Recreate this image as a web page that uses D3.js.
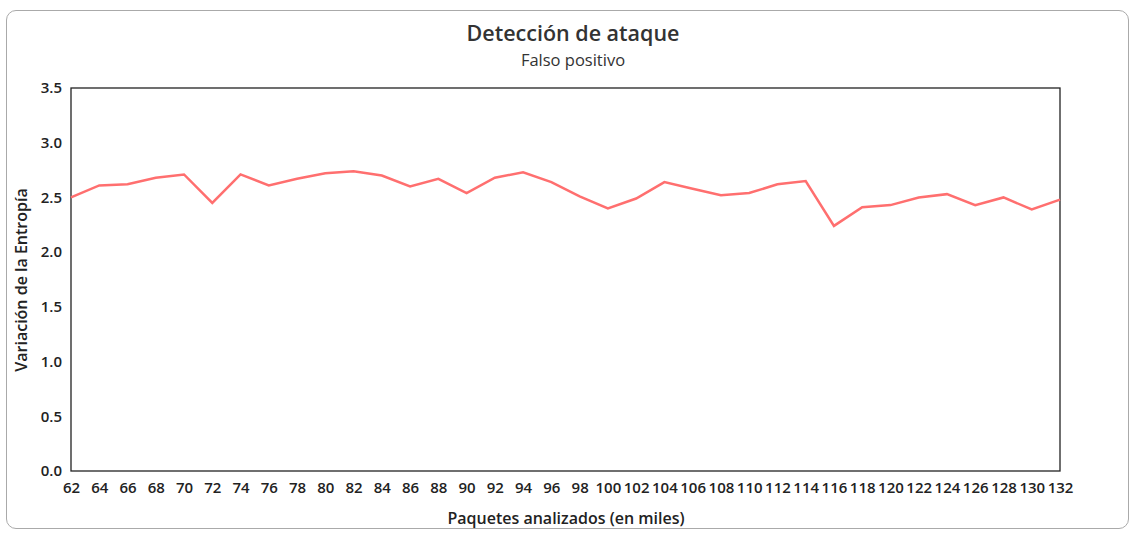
<!DOCTYPE html>
<html>
<head>
<meta charset="utf-8">
<script src="https://cdn.jsdelivr.net/npm/d3@7"></script>
<style>
  body { margin: 0; background: #fff; font-family: "Open Sans", sans-serif; }
  .card { position: absolute; left: 6px; top: 10px; width: 1123px; height: 519px;
          border: 1px solid #aaa; border-radius: 10px; box-sizing: border-box; }
  svg { position: absolute; left: 0; top: 0; }
</style>
</head>
<body>
<div class="card"></div>
<svg width="1132" height="533"></svg>
<script>
var paquetes = [62, 64, 66, 68, 70, 72, 74, 76, 78, 80, 82, 84, 86, 88, 90, 92, 94, 96,
  98, 100, 102, 104, 106, 108, 110, 112, 114, 116, 118, 120, 122, 124, 126, 128, 130, 132];
var entropia = [2.50, 2.61, 2.62, 2.68, 2.71, 2.45, 2.71, 2.61, 2.67, 2.72, 2.74, 2.70,
  2.60, 2.67, 2.54, 2.68, 2.73, 2.64, 2.51, 2.40, 2.49, 2.64, 2.58, 2.52, 2.54, 2.62,
  2.65, 2.24, 2.41, 2.43, 2.50, 2.53, 2.43, 2.50, 2.39, 2.48];
var yTicks = [0, 0.5, 1, 1.5, 2, 2.5, 3, 3.5];

var margin = { left: 71, top: 88, right: 1060, bottom: 471 };
var svg = d3.select('svg');

var x = d3.scalePoint()
  .domain(paquetes)
  .range([margin.left, margin.right]);

var y = d3.scaleLinear()
  .domain([0, 3.5])
  .range([margin.bottom, margin.top]);

// titulo
svg.append('text')
  .attr('x', 573).attr('y', 41)
  .attr('text-anchor', 'middle')
  .attr('font-size', 21.5).attr('font-weight', 600).attr('fill', '#333')
  .text('Detección de ataque');

svg.append('text')
  .attr('x', 573).attr('y', 66)
  .attr('text-anchor', 'middle')
  .attr('font-size', 16.5).attr('fill', '#333')
  .text('Falso positivo');

// ejes
svg.append('g')
  .attr('transform', 'translate(' + margin.left + ',0)')
  .call(d3.axisLeft(y).tickValues(yTicks).tickSize(0).tickPadding(9)
    .tickFormat(d3.format('.1f')));

svg.append('g')
  .attr('transform', 'translate(0,' + margin.bottom + ')')
  .call(d3.axisBottom(x).tickSize(0).tickPadding(11));

svg.selectAll('.domain').remove();
svg.selectAll('.tick text')
  .attr('font-family', '"Open Sans", sans-serif')
  .attr('font-size', 15)
  .attr('font-weight', 600)
  .attr('fill', '#222');

// borde del area
svg.append('rect')
  .attr('x', margin.left).attr('y', margin.top)
  .attr('width', margin.right - margin.left)
  .attr('height', margin.bottom - margin.top)
  .attr('fill', 'none')
  .attr('stroke', '#222')
  .attr('stroke-width', 1.3);

// linea
svg.append('path')
  .datum(paquetes)
  .attr('fill', 'none')
  .attr('stroke', '#ff6f6f')
  .attr('stroke-width', 2.5)
  .attr('d', d3.line()
    .x(function(d) { return x(d); })
    .y(function(d, i) { return y(entropia[i]); }));

// titulos de ejes
svg.append('text')
  .attr('x', 566).attr('y', 524)
  .attr('text-anchor', 'middle')
  .attr('font-size', 16).attr('font-weight', 600).attr('fill', '#222')
  .text('Paquetes analizados (en miles)');

svg.append('text')
  .attr('transform', 'translate(27,280) rotate(-90)')
  .attr('text-anchor', 'middle')
  .attr('font-size', 16).attr('font-weight', 600).attr('fill', '#222')
  .text('Variación de la Entropía');
</script>
</body>
</html>
